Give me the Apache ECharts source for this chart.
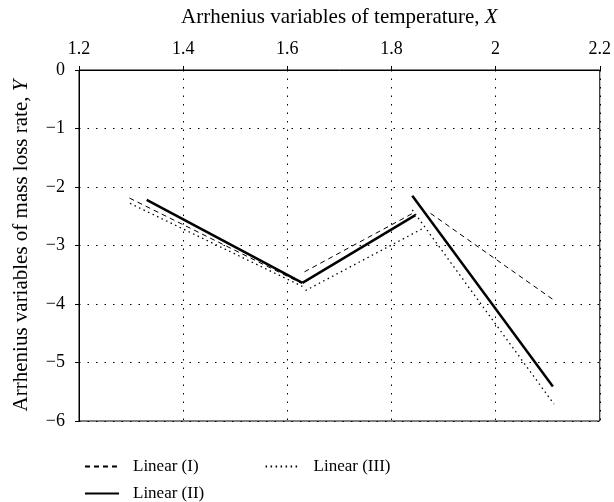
<!DOCTYPE html>
<html>
<head>
<meta charset="utf-8">
<script src="https://cdn.jsdelivr.net/npm/echarts@6/dist/echarts.min.js"></script>
<style>
  html, body { margin: 0; padding: 0; background: #fff; }
  #main { width: 614px; height: 502px; }
</style>
</head>
<body>
<div id="main"></div>
<script>
// each series is drawn as three separate straight segments
var seriesNames = ['Linear (I)', 'Linear (II)', 'Linear (III)'];
var linearI = [
  [[1.297, -2.19], [1.626, -3.64]],
  [[1.633, -3.45], [1.843, -2.44]],
  [[1.875, -2.45], [2.113, -3.94]]
];
var linearII = [
  [[1.330, -2.22], [1.629, -3.64]],
  [[1.629, -3.64], [1.846, -2.48]],
  [[1.840, -2.15], [2.110, -5.41]]
];
var linearIII = [
  [[1.298, -2.28], [1.629, -3.70]],
  [[1.635, -3.77], [1.862, -2.70]],
  [[1.840, -2.39], [2.112, -5.71]]
];
var xTicks = [1.2, 1.4, 1.6, 1.8, 2, 2.2];
var yTicks = [0, -1, -2, -3, -4, -5, -6];

var fontFam = '"Liberation Serif", "DejaVu Serif", serif';
var styles = [
  { type: [5, 4], width: 1 },
  { type: 'solid', width: 2.5 },
  { type: [1.5, 3.5], width: 1.3 }
];
var groups = [linearI, linearII, linearIII];

var series = [];
groups.forEach(function (segs, i) {
  segs.forEach(function (seg) {
    series.push({
      name: seriesNames[i],
      type: 'line',
      data: seg,
      showSymbol: false,
      symbol: 'none',
      silent: true,
      animation: false,
      lineStyle: { color: '#000', width: styles[i].width, type: styles[i].type },
      itemStyle: { color: '#000' }
    });
  });
});

var legendText = { fontFamily: fontFam, fontSize: 17, color: '#000', padding: [0, 0, 0, 9] };

var chart = echarts.init(document.getElementById('main'));
var option = {
  backgroundColor: '#ffffff',
  animation: false,
  textStyle: { fontFamily: fontFam, color: '#000' },
  grid: {
    left: 79, right: 12, top: 70, bottom: 81,
    show: true, borderColor: '#000', borderWidth: 1, backgroundColor: 'transparent'
  },
  legend: [
    {
      data: ['Linear (I)', 'Linear (III)'],
      left: 79, top: 453, itemWidth: 34, itemHeight: 18, itemGap: 66,
      itemStyle: { opacity: 0 },
      textStyle: legendText
    },
    {
      data: ['Linear (II)'],
      left: 79, top: 480, itemWidth: 34, itemHeight: 18,
      itemStyle: { opacity: 0 },
      textStyle: legendText
    }
  ],
  xAxis: {
    type: 'value',
    position: 'top',
    min: 1.2, max: 2.2, interval: 0.2,
    name: 'Arrhenius variables of temperature, {i|X}',
    nameLocation: 'middle',
    nameGap: 42,
    nameTextStyle: {
      fontFamily: fontFam, fontSize: 21, color: '#000',
      rich: { i: { fontFamily: fontFam, fontSize: 21, fontStyle: 'italic', color: '#000' } }
    },
    axisLine: { show: true, lineStyle: { color: '#000', width: 1 } },
    axisTick: { show: true, length: 4, lineStyle: { color: '#000' } },
    axisLabel: {
      fontFamily: fontFam, fontSize: 18, color: '#000', margin: 12,
      formatter: function (v) { return xTicks.indexOf(+v.toFixed(1)) >= 0 ? String(+v.toFixed(1)) : ''; }
    },
    splitLine: { show: true, lineStyle: { color: '#000', type: [1.5, 7], width: 1 } }
  },
  yAxis: {
    type: 'value',
    min: -6, max: 0, interval: 1,
    name: 'Arrhenius variables of mass loss rate, {i|Y}',
    nameLocation: 'middle',
    nameGap: 47,
    nameTextStyle: {
      fontFamily: fontFam, fontSize: 21, color: '#000',
      rich: { i: { fontFamily: fontFam, fontSize: 21, fontStyle: 'italic', color: '#000' } }
    },
    axisLine: { show: true, lineStyle: { color: '#000', width: 1 } },
    axisTick: { show: true, length: 4, lineStyle: { color: '#000' } },
    axisLabel: {
      fontFamily: fontFam, fontSize: 18, color: '#000', margin: 14,
      formatter: function (v) { return yTicks.indexOf(v) >= 0 && v < 0 ? '\u2212' + Math.abs(v) : String(v); }
    },
    splitLine: { show: true, lineStyle: { color: '#000', type: [1.5, 7], width: 1 } }
  },
  series: series
};
chart.setOption(option);
</script>
</body>
</html>
